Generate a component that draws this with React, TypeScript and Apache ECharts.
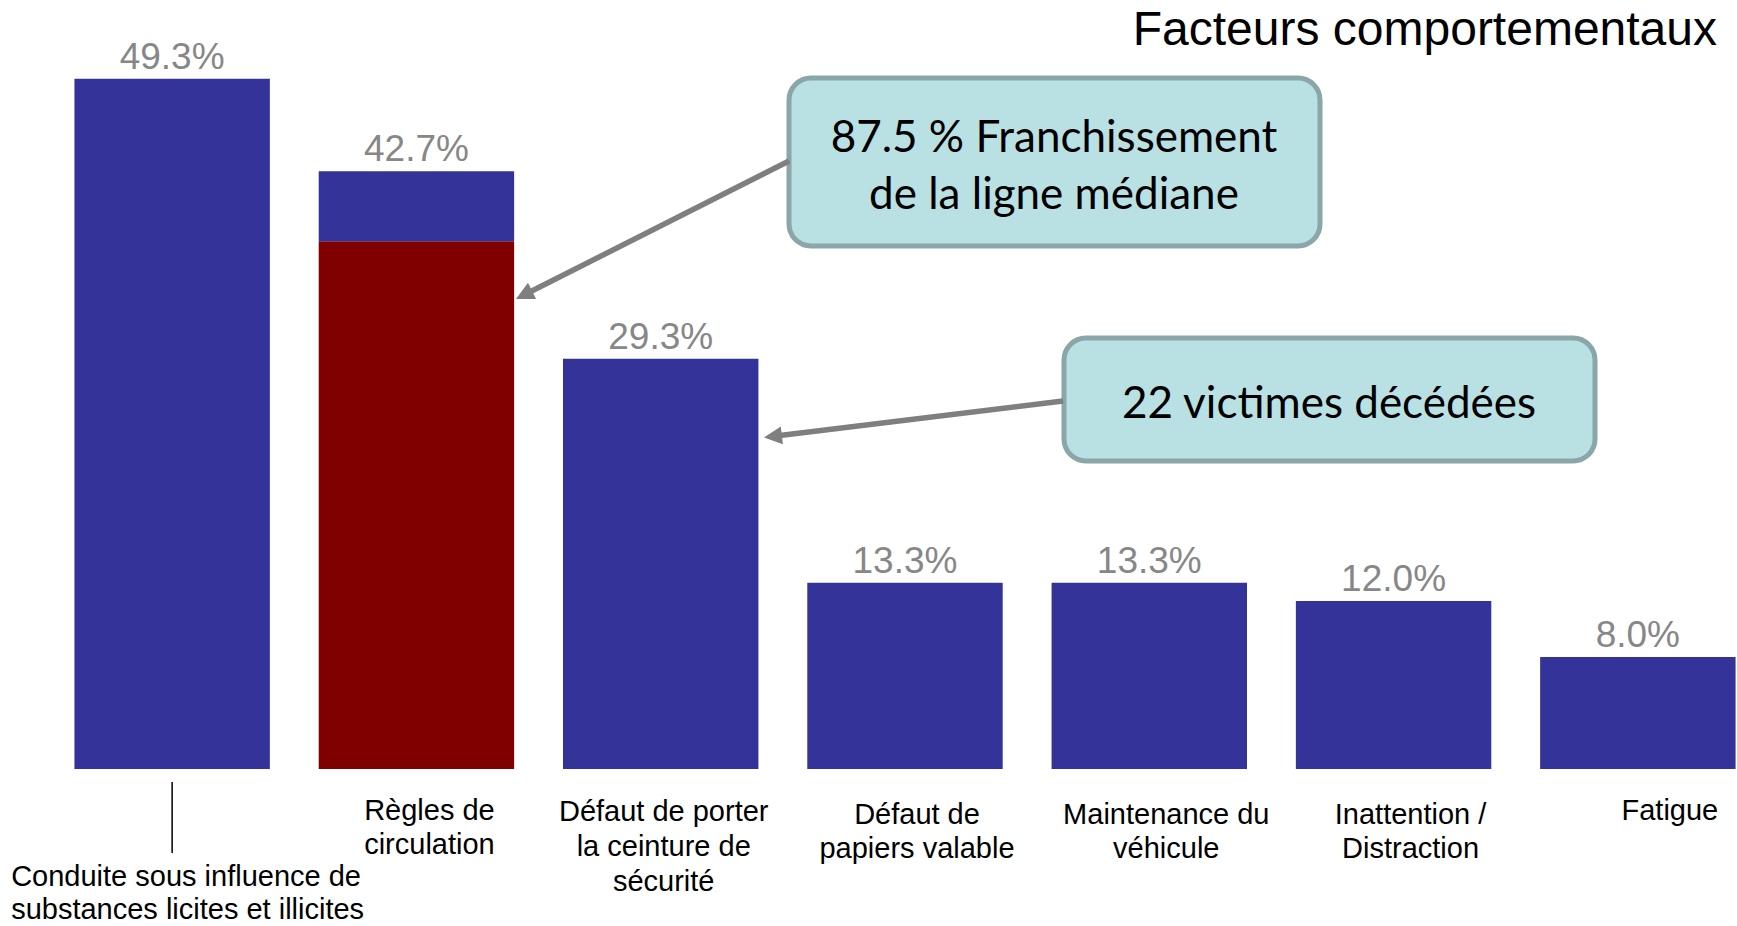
import React, { useEffect, useRef } from "react";
import * as echarts from "echarts";

const FONT = "'Liberation Sans', Arial, sans-serif";
const CALLOUT_FONT = "Lato, 'Open Sans', sans-serif";

const title = "Facteurs comportementaux";
const categories = [
  "Conduite sous influence de\nsubstances licites et illicites",
  "Règles de\ncirculation",
  "Défaut de porter\nla ceinture de\nsécurité",
  "Défaut de\npapiers valable",
  "Maintenance du\nvéhicule",
  "Inattention /\nDistraction",
  "Fatigue",
];
const totals = [49.3, 42.7, 29.3, 13.3, 13.3, 12.0, 8.0];
// part of "Règles de circulation" due to crossing the median line (as drawn)
const medianCrossing = [0, 37.7, 0, 0, 0, 0, 0];
const valueLabels = totals.map((v) => v.toFixed(1) + "%");
const callout1 = "87.5 % Franchissement\nde la ligne médiane";
const callout2 = "22 victimes décédées";

// label layout (offset from category centre, top of text block)
const labelLayout = [
  { dx: -161, align: "left", top: 859, lh: 33 },
  { dx: 13, align: "center", top: 793, lh: 34 },
  { dx: 3, align: "center", top: 793, lh: 35 },
  { dx: 12, align: "center", top: 797, lh: 34 },
  { dx: 17, align: "center", top: 797, lh: 34 },
  { dx: 17, align: "center", top: 797, lh: 34 },
  { dx: 32, align: "center", top: 793, lh: 34 },
];

function arrow(x1: number, y1: number, x2: number, y2: number, color: string) {
  const dx = x2 - x1;
  const dy = y2 - y1;
  const len = Math.sqrt(dx * dx + dy * dy);
  const ux = dx / len;
  const uy = dy / len;
  const headLen = 18;
  const headHalf = 9;
  const bx = x2 - ux * headLen;
  const by = y2 - uy * headLen;
  const nx = -uy;
  const ny = ux;
  return [
    {
      type: "line",
      shape: { x1, y1, x2: bx + ux * 2, y2: by + uy * 2 },
      style: { stroke: color, lineWidth: 5.5 },
      z: 50,
    },
    {
      type: "polygon",
      shape: {
        points: [
          [x2, y2],
          [bx + nx * headHalf, by + ny * headHalf],
          [bx - nx * headHalf, by - ny * headHalf],
        ],
      },
      style: { fill: color },
      z: 50,
    },
  ];
}

export default function App() {
  const ref = useRef<HTMLDivElement>(null);
  useEffect(() => {
    const el = ref.current!;
    const chart = echarts.init(el, null, { renderer: "svg" });
    const red = medianCrossing;
    const blue = totals.map((t, i) => +(t - red[i]).toFixed(1));
    chart.setOption({
      animation: false,
      backgroundColor: "#ffffff",
      textStyle: { fontFamily: FONT },
      grid: { left: 50, top: 69, width: 1710, height: 700, outerBoundsMode: "none", containLabel: false },
      xAxis: {
        type: "category",
        data: categories,
        axisLine: { show: false },
        axisTick: { show: false },
        axisLabel: { show: false },
        splitLine: { show: false },
      },
      yAxis: { type: "value", min: 0, max: 50, show: false },
      series: [
        {
          name: "Franchissement de la ligne médiane",
          type: "bar",
          stack: "total",
          barWidth: "80%",
          data: red,
          itemStyle: { color: "#800000" },
        },
        {
          name: "Facteurs",
          type: "bar",
          stack: "total",
          barWidth: "80%",
          data: blue,
          itemStyle: { color: "#333399" },
          label: {
            show: true,
            position: "top",
            distance: 4,
            formatter: (p: any) => valueLabels[p.dataIndex],
            fontSize: 37,
            color: "#878787",
            fontFamily: FONT,
          },
        },
      ],
    });

    const cx = (i: number) => chart.convertToPixel({ xAxisIndex: 0 }, i) as number;
    const graphics: any[] = [];
    categories.forEach((c, i) => {
      const l = labelLayout[i];
      graphics.push({
        type: "text",
        x: cx(i) + l.dx,
        y: l.top,
        style: {
          text: c,
          fill: "#000000",
          fontSize: 29,
          fontFamily: FONT,
          align: l.align,
          verticalAlign: "top",
          lineHeight: l.lh,
        },
      });
    });
    graphics.push({
      type: "line",
      shape: { x1: cx(0), y1: 782, x2: cx(0), y2: 853 },
      style: { stroke: "#000000", lineWidth: 1.5 },
    });
    graphics.push({
      type: "text",
      x: 1717,
      y: 28,
      style: {
        text: title,
        fill: "#000000",
        fontSize: 48,
        fontFamily: FONT,
        align: "right",
        verticalAlign: "middle",
      },
    });
    // callout boxes
    graphics.push({
      type: "rect",
      shape: { x: 789, y: 78, width: 531, height: 168, r: 22 },
      style: { fill: "#B9E0E3", stroke: "#8BA6A9", lineWidth: 5 },
      z: 40,
    });
    graphics.push({
      type: "text",
      x: 1054,
      y: 163,
      style: {
        text: callout1,
        fill: "#000000",
        fontSize: 44,
        fontFamily: CALLOUT_FONT,
        align: "center",
        verticalAlign: "middle",
        lineHeight: 57,
      },
      z: 41,
    });
    graphics.push({
      type: "rect",
      shape: { x: 1064, y: 338, width: 531, height: 123, r: 22 },
      style: { fill: "#B9E0E3", stroke: "#8BA6A9", lineWidth: 5 },
      z: 40,
    });
    graphics.push({
      type: "text",
      x: 1329,
      y: 401,
      style: {
        text: callout2,
        fill: "#000000",
        fontSize: 44,
        fontFamily: CALLOUT_FONT,
        align: "center",
        verticalAlign: "middle",
      },
      z: 41,
    });
    graphics.push(...arrow(789, 161, 516, 299, "#7F7F7F"));
    graphics.push(...arrow(1063, 401, 764, 437.5, "#7F7F7F"));

    chart.setOption({ graphic: graphics });

    return () => chart.dispose();
  }, []);

  return (
    <div
      ref={ref}
      style={{ position: "fixed", left: 0, top: 0, width: 1737, height: 926, background: "#fff" }}
    />
  );
}
